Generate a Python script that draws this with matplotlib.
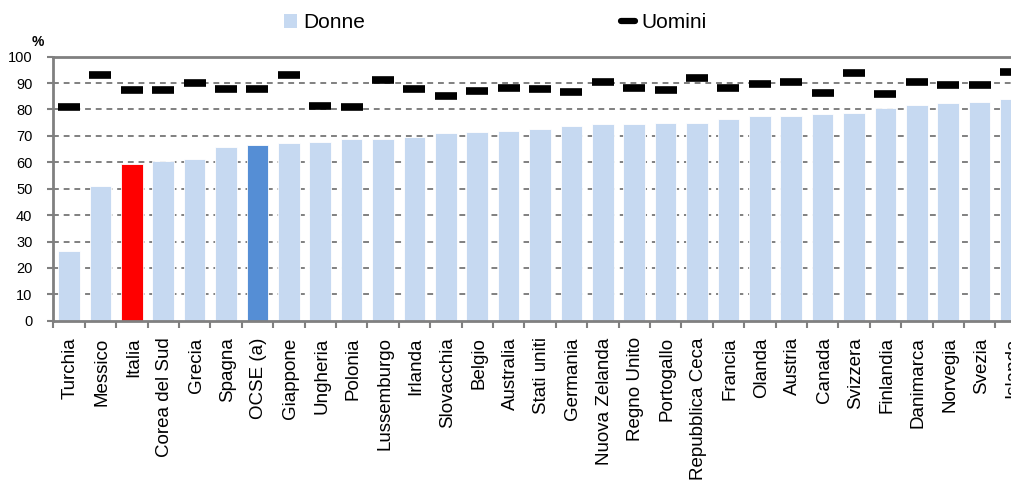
import matplotlib
matplotlib.use("Agg")
import matplotlib.pyplot as plt
import numpy as np
from matplotlib.lines import Line2D
from matplotlib.patches import Patch

plt.rcParams['font.family'] = ['Liberation Sans', 'DejaVu Sans']

# Tasso di occupazione per genere (%)
paesi = ["Turchia", "Messico", "Italia", "Corea del Sud", "Grecia", "Spagna",
         "OCSE (a)", "Giappone", "Ungheria", "Polonia", "Lussemburgo", "Irlanda",
         "Slovacchia", "Belgio", "Australia", "Stati uniti", "Germania",
         "Nuova Zelanda", "Regno Unito", "Portogallo", "Repubblica Ceca",
         "Francia", "Olanda", "Austria", "Canada", "Svizzera", "Finlandia",
         "Danimarca", "Norvegia", "Svezia", "Islanda"]
donne = [26.4, 51.0, 59.4, 60.4, 61.1, 65.7, 66.6, 67.3, 67.8, 68.8, 68.9,
         69.6, 71.0, 71.6, 72.0, 72.5, 73.6, 74.6, 74.6, 74.9, 75.0, 76.3,
         77.4, 77.4, 78.2, 78.6, 80.6, 81.8, 82.3, 82.8, 84.0]
uomini = [81.1, 92.9, 87.4, 87.3, 90.2, 87.6, 87.8, 92.9, 81.3, 81.1, 91.2,
          87.9, 85.0, 86.9, 88.1, 87.8, 86.8, 90.4, 88.3, 87.3, 91.8, 88.1,
          89.7, 90.6, 86.3, 93.7, 86.0, 90.3, 89.3, 89.2, 94.3]

blu_chiaro = "#C6D9F1"
colori = [blu_chiaro] * len(paesi)
colori[paesi.index("Italia")] = "#FF0000"
colori[paesi.index("OCSE (a)")] = "#558ED5"
grigio = "#808080"

fig = plt.figure(figsize=(10.12, 4.8), dpi=100)
# the plot area runs a bit past the right edge, as in the original
ax = fig.add_axes([53.3 / 1012, 159.3 / 480, 973.4 / 1012, 264 / 480])

x = np.arange(len(paesi))
ax.bar(x, donne, width=0.69, color=colori, edgecolor="white", linewidth=0.6, zorder=2)
ax.plot(x, uomini, linestyle="none", marker="_", markersize=15.5,
        markeredgewidth=5.5, color="black", zorder=3)

ax.set_xlim(-0.5, len(paesi) - 0.5)
ax.set_ylim(0, 100)
ax.set_yticks(np.arange(0, 101, 10))
ax.tick_params(axis="y", labelsize=10.5, length=4, width=1.5, color=grigio, pad=11)

# ticks on the slot borders, labels at the bar centres
ax.set_xticks(np.arange(len(paesi) + 1) - 0.5)
ax.set_xticklabels([])
ax.tick_params(axis="x", which="major", length=5, width=1.5, color=grigio)
ax.set_xticks(x + 0.05, minor=True)
ax.set_xticklabels(paesi, minor=True, rotation=90, fontsize=13.5)
ax.tick_params(axis="x", which="minor", length=0, pad=12)

for v in range(10, 100, 10):
    ax.axhline(v, color=grigio, linestyle=(0, (3, 2.5)), linewidth=1.4, zorder=1)

for lato in ["left", "bottom", "top"]:
    ax.spines[lato].set_color(grigio)
    ax.spines[lato].set_linewidth(2)
ax.spines["right"].set_visible(False)

fig.text(38 / 1012, 1 - 42 / 480, "%", fontsize=10, fontweight="bold",
         ha="center", va="center")

maniglie = [Patch(facecolor=blu_chiaro, edgecolor="none"),
            Line2D([], [], color="black", linewidth=4.5, solid_capstyle="round")]
fig.legend(maniglie, ["Donne", "Uomini"], loc="center", ncol=2,
           bbox_to_anchor=(495 / 1012, 1 - 23 / 480), frameon=False,
           fontsize=15, handlelength=0.65, handleheight=0.65, handletextpad=0.3,
           columnspacing=12.3)

fig.savefig("out.png", dpi=100)
